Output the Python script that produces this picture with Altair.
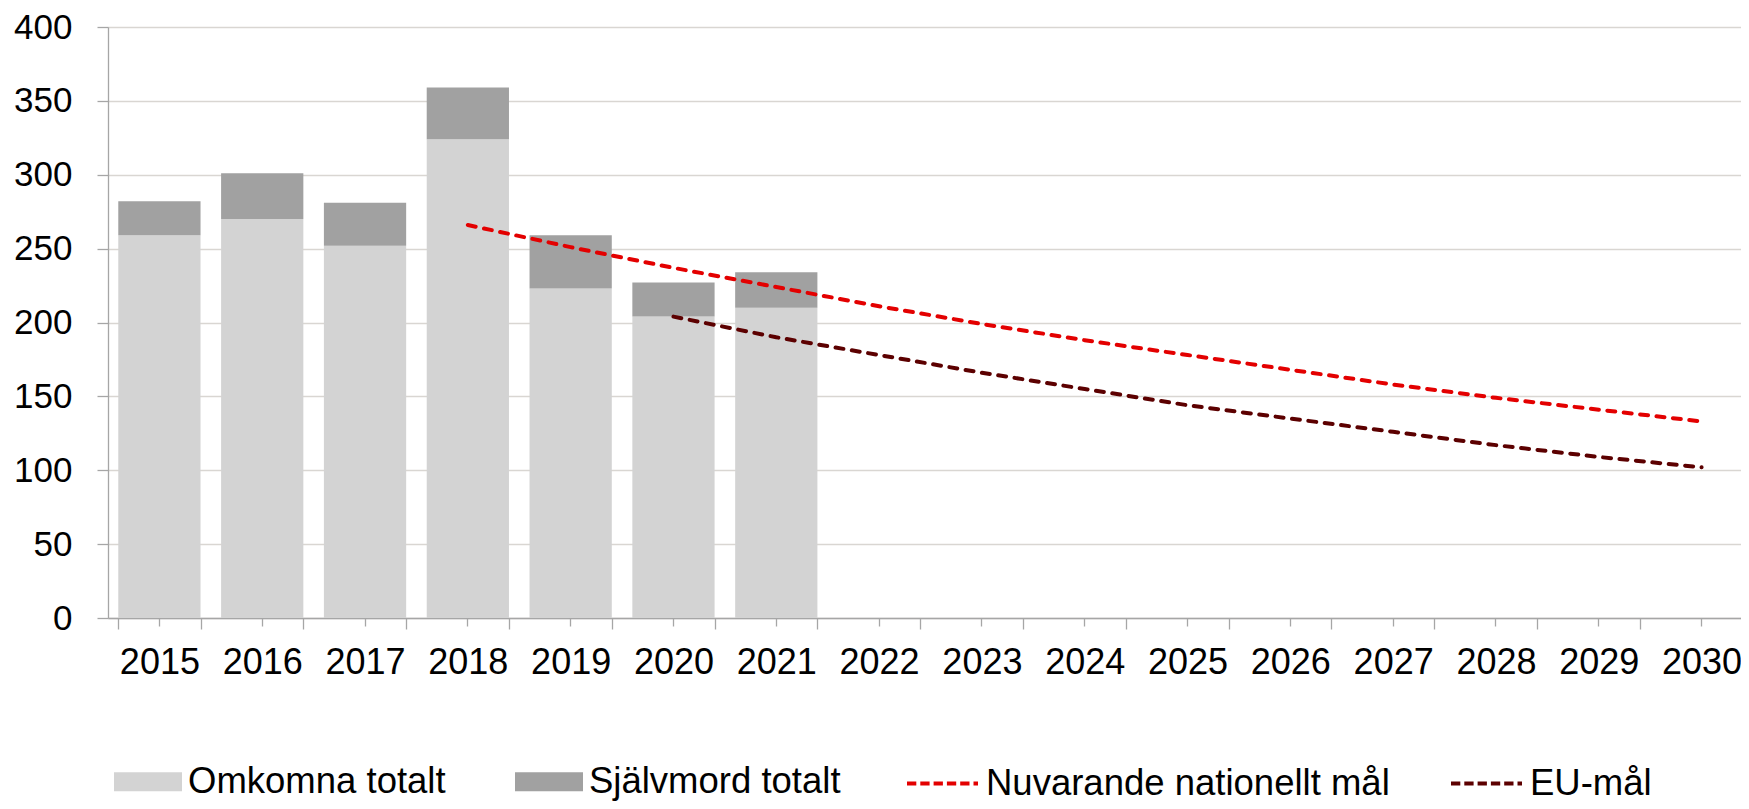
import altair as alt
import pandas as pd

years = [str(y) for y in range(2015, 2031)]

bar_years = ["2015", "2016", "2017", "2018", "2019", "2020", "2021"]
omkomna = [259, 270, 252, 324, 223, 204, 210]
sjalvmord = [23, 31, 29, 35, 36, 23, 24]

nat_years = ["2018", "2019", "2020", "2021", "2022", "2023", "2024",
             "2025", "2026", "2027", "2028", "2029", "2030"]
nat_vals = [266, 251, 237, 224, 211, 199, 188, 178, 168, 158, 149, 141, 133]

eu_years = ["2020", "2021", "2022", "2023", "2024", "2025", "2026",
            "2027", "2028", "2029", "2030"]
eu_vals = [204, 190, 178, 166, 155, 144, 135, 126, 117, 109, 102]

bar_series = ["Omkomna totalt", "Självmord totalt"]
bar_colors = ["#D3D3D3", "#A1A1A1"]
line_series = ["Nuvarande nationellt mål", "EU-mål"]
line_colors = ["#E30000", "#5C0000"]

FONT = "Liberation Sans"

bars_rows = []
for y, a, b in zip(bar_years, omkomna, sjalvmord):
    bars_rows.append({"year": y, "series": bar_series[0], "value": a, "ord": 0})
    bars_rows.append({"year": y, "series": bar_series[1], "value": b, "ord": 1})
df_bars = pd.DataFrame(bars_rows)

line_rows = []
for y, v in zip(nat_years, nat_vals):
    line_rows.append({"year": y, "series": line_series[0], "value": v})
for y, v in zip(eu_years, eu_vals):
    line_rows.append({"year": y, "series": line_series[1], "value": v})
df_lines = pd.DataFrame(line_rows)

axis_gray = "#A6A6A6"

xscale = alt.Scale(domain=years, paddingInner=0.2, paddingOuter=0.1, range=[0, 1645])
yscale = alt.Scale(domain=[0, 400], nice=False)

y_axis = alt.Axis(
    values=list(range(0, 401, 50)), title=None, tickSize=11, tickColor=axis_gray,
    domainColor=axis_gray, domainWidth=1.3, tickWidth=1.3,
    gridColor="#D9D6D2", gridWidth=1.3,
    labelFont=FONT, labelFontSize=35, labelColor="#000000", labelPadding=25,
)

x_axis_main = alt.Axis(
    title=None, orient="bottom", tickBand="extent", tickSize=11, tickColor=axis_gray,
    tickWidth=1.3, domainColor=axis_gray, domainWidth=1.3, grid=False, labelAngle=0,
    labelFont=FONT, labelFontSize=36, labelColor="#000000", labelPadding=16,
)

x_axis_center = alt.Axis(
    title=None, orient="bottom", tickSize=8, tickColor=axis_gray, tickWidth=1.3,
    domain=False, labels=False, grid=False,
)

bars = alt.Chart(df_bars).mark_bar().encode(
    x=alt.X("year:N", scale=xscale, axis=x_axis_main),
    y=alt.Y("value:Q", stack="zero", scale=yscale, axis=y_axis),
    fill=alt.Fill(
        "series:N",
        scale=alt.Scale(domain=bar_series, range=bar_colors),
        legend=alt.Legend(
            title=None, orient="none", legendX=6, legendY=720.5, direction="horizontal",
            symbolType="M-1,-0.2794H1V0.2794H-1Z", symbolSize=4624, symbolStrokeWidth=0,
            symbolOpacity=1, labelFont=FONT, labelFontSize=36.5, labelColor="#000000",
            labelOffset=6, columnPadding=69, labelLimit=1000, padding=0,
        ),
    ),
    order=alt.Order("ord:Q"),
)

lines = alt.Chart(df_lines).mark_line(
    strokeDash=[8, 8.5], strokeWidth=4, strokeCap="round"
).encode(
    x=alt.X("year:N", scale=xscale, axis=x_axis_center),
    y=alt.Y("value:Q", scale=yscale, axis=y_axis),
    stroke=alt.Stroke(
        "series:N",
        scale=alt.Scale(domain=line_series, range=line_colors),
        legend=alt.Legend(
            title=None, orient="none", legendX=797, legendY=719, direction="horizontal",
            symbolType="stroke", symbolSize=5041, symbolStrokeWidth=3.8,
            symbolDash=[9.3, 4], labelFont=FONT, labelFontSize=36.5, labelColor="#000000",
            labelOffset=6, columnPadding=53, labelLimit=1000, padding=0,
        ),
    ),
)

chart = alt.layer(bars, lines).resolve_axis(x="independent").resolve_legend(
    fill="independent", stroke="independent"
).properties(
    width=1633, height=591,
    autosize=alt.AutoSizeParams(type="none"),
    padding={"left": 100, "top": 19, "right": 0, "bottom": 183},
).configure_view(stroke=None).configure(background="#FFFFFF")

chart.save("out.html", embed_options={"renderer": "svg", "actions": False})
